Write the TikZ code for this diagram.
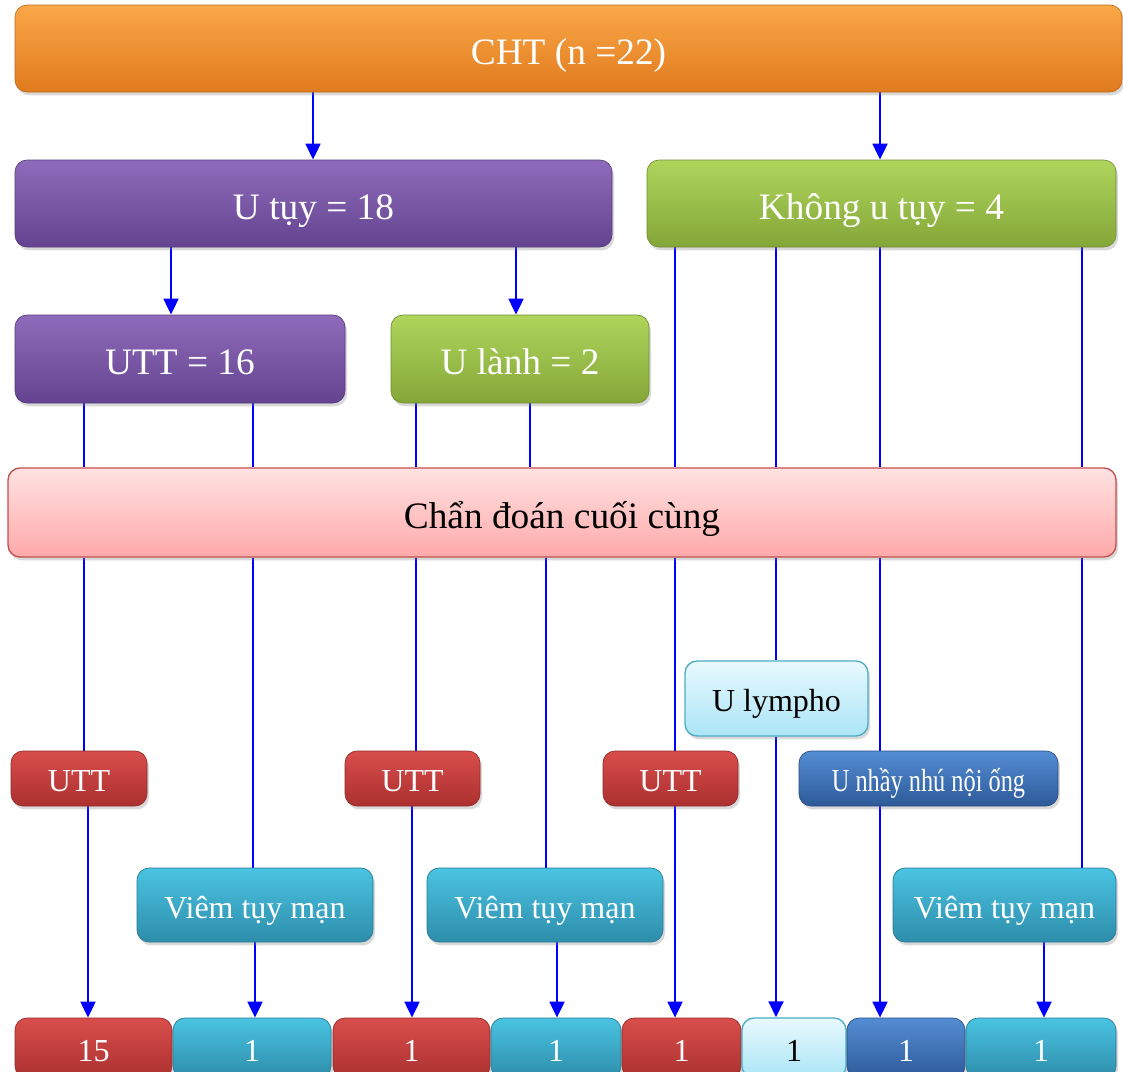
\documentclass[tikz,border=0pt]{standalone}
\usepackage{fontspec}
\setmainfont{Liberation Serif}
\usetikzlibrary{shadows,arrows.meta,backgrounds}
\definecolor{orangeT}{HTML}{FAA848}
\definecolor{orangeB}{HTML}{E07A1E}
\definecolor{purpleT}{HTML}{8F6CBB}
\definecolor{purpleB}{HTML}{634390}
\definecolor{greenT}{HTML}{AFD55C}
\definecolor{greenB}{HTML}{84A638}
\definecolor{pinkT}{HTML}{FFE2E2}
\definecolor{pinkB}{HTML}{FFA9A9}
\definecolor{pinkD}{HTML}{C0504D}
\definecolor{redT}{HTML}{D84E4C}
\definecolor{redB}{HTML}{AB302F}
\definecolor{tealT}{HTML}{49C4E2}
\definecolor{tealB}{HTML}{2E8DAB}
\definecolor{blueT}{HTML}{548DD4}
\definecolor{blueB}{HTML}{2D5A99}
\definecolor{ltT}{HTML}{E8F9FE}
\definecolor{ltB}{HTML}{ABE5F6}
\definecolor{ltD}{HTML}{4BACC6}
\tikzset{
  bx/.style n args={4}{at={({(#1+#3)/2},{(#2+#4)/2})},
    minimum width={(#3-#1)*0.75pt}, minimum height={(#4-#2)*0.75pt}},
  box/.style={rounded corners=9pt, inner sep=0pt, text=white,
    font=\fontsize{28}{32}\selectfont, text height=23.5pt, text depth=0pt,
    drop shadow={shadow xshift=1.5pt, shadow yshift=-2.5pt, opacity=0.3}},
  smallfont/.style={font=\fontsize{24}{28}\selectfont, text height=20pt},
  orangebox/.style={box, top color=orangeT, bottom color=orangeB, draw=orangeB!85!black, line width=0.5pt},
  purplebox/.style={box, top color=purpleT, bottom color=purpleB, draw=purpleB!85!black, line width=0.5pt},
  greenbox/.style={box, top color=greenT, bottom color=greenB, draw=greenB!85!black, line width=0.5pt},
  pinkbox/.style={box, top color=pinkT, bottom color=pinkB, draw=pinkD, line width=1pt, text=black},
  redbox/.style={box, smallfont, top color=redT, bottom color=redB, draw=redB!85!black, line width=0.5pt},
  tealbox/.style={box, smallfont, top color=tealT, bottom color=tealB, draw=tealB!85!black, line width=0.5pt},
  bluebox/.style={box, smallfont, top color=blueT, bottom color=blueB, draw=blueB!85!black, line width=0.5pt},
  ltbox/.style={box, smallfont, top color=ltT, bottom color=ltB, draw=ltD, line width=1pt, text=black},
  conn/.style={draw=blue, line width=2.1pt},
  arr/.style={conn, -{Triangle[length=12pt,width=11pt]}},
}
\begin{document}
\begin{tikzpicture}[x=0.75pt, y=-0.75pt]
\useasboundingbox (0,0) rectangle (1123,1071);
% top levels
\node[orangebox, bx={15}{5}{1122}{92}] (cht) {CHT (n =22)};
\node[purplebox, bx={15}{160}{612}{247}] (utuy) {U tụy = 18};
\node[greenbox, bx={647}{160}{1116}{247}] (kutuy) {Không u tụy = 4};
\node[purplebox, bx={15}{315}{345}{403}] (utt16) {UTT = 16};
\node[greenbox, bx={391}{315}{649}{403}] (ulanh) {U lành = 2};
\node[pinkbox, bx={8}{468}{1116}{557}] (final) {Chẩn đoán cuối cùng};
% diagnoses
\node[ltbox, bx={685}{661}{868}{736}] (lympho) {U lympho};
\node[redbox, bx={11}{751}{147}{806}] (uttA) {UTT};
\node[redbox, bx={345}{751}{480}{806}] (uttB) {UTT};
\node[redbox, bx={603}{751}{738}{806}] (uttC) {UTT};
\node[bluebox, bx={799}{751}{1058}{806}] (unhay) {\scalebox{0.76}[1]{U nhầy nhú nội ống}};
\node[tealbox, bx={137}{868}{373}{942}] (viemA) {Viêm tụy mạn};
\node[tealbox, bx={427}{868}{663}{942}] (viemB) {Viêm tụy mạn};
\node[tealbox, bx={893}{868}{1116}{942}] (viemC) {Viêm tụy mạn};
% bottom row
\node[redbox, bx={15}{1018}{172}{1078}] (b1) {15};
\node[tealbox, bx={173}{1018}{331}{1078}] (b2) {1};
\node[redbox, bx={333}{1018}{490}{1078}] (b3) {1};
\node[tealbox, bx={491}{1018}{621}{1078}] (b4) {1};
\node[redbox, bx={622}{1018}{741}{1078}] (b5) {1};
\node[ltbox, bx={742}{1018}{846}{1078}] (b6) {1};
\node[bluebox, bx={847}{1018}{965}{1078}] (b7) {1};
\node[tealbox, bx={966}{1018}{1116}{1078}] (b8) {1};
% column coordinates
\coordinate (xa) at (313,0);
\coordinate (xb) at (880,0);
\coordinate (xc) at (171,0);
\coordinate (xd) at (516,0);
\coordinate (c1) at (84,0);
\coordinate (c2) at (253,0);
\coordinate (c3) at (416,0);
\coordinate (c4) at (530,0);
\coordinate (c4b) at (546,0);
\coordinate (c5) at (675,0);
\coordinate (c6) at (776,0);
\coordinate (c7) at (880,0);
\coordinate (c8) at (1082,0);
\coordinate (k1) at (88,0);
\coordinate (k2) at (255,0);
\coordinate (k3) at (412,0);
\coordinate (k4) at (557,0);
\coordinate (k5) at (675,0);
\coordinate (k6) at (776,0);
\coordinate (k7) at (880,0);
\coordinate (k8) at (1044,0);
\begin{pgfonlayer}{background}
\draw[arr] (cht.south -| xa) -- (utuy.north -| xa);
\draw[arr] (cht.south -| xb) -- (kutuy.north -| xb);
\draw[arr] (utuy.south -| xc) -- (utt16.north -| xc);
\draw[arr] (utuy.south -| xd) -- (ulanh.north -| xd);
% into final diagnosis
\draw[conn] (utt16.south -| c1) -- (final.north -| c1);
\draw[conn] (utt16.south -| c2) -- (final.north -| c2);
\draw[conn] (ulanh.south -| c3) -- (final.north -| c3);
\draw[conn] (ulanh.south -| c4) -- (final.north -| c4);
\draw[conn] (kutuy.south -| c5) -- (final.north -| c5);
\draw[conn] (kutuy.south -| c6) -- (final.north -| c6);
\draw[conn] (kutuy.south -| c7) -- (final.north -| c7);
\draw[conn] (kutuy.south -| c8) -- (final.north -| c8);
% out of final diagnosis
\draw[conn] (final.south -| c1) -- (uttA.north -| c1);
\draw[conn] (final.south -| c2) -- (viemA.north -| c2);
\draw[conn] (final.south -| c3) -- (uttB.north -| c3);
\draw[conn] (final.south -| c4b) -- (viemB.north -| c4b);
\draw[conn] (final.south -| c5) -- (uttC.north -| c5);
\draw[conn] (final.south -| c6) -- (lympho.north -| c6);
\draw[conn] (final.south -| c7) -- (unhay.north -| c7);
\draw[conn] (final.south -| c8) -- (viemC.north -| c8);
% to counts
\draw[arr] (uttA.south -| k1) -- (b1.north -| k1);
\draw[arr] (viemA.south -| k2) -- (b2.north -| k2);
\draw[arr] (uttB.south -| k3) -- (b3.north -| k3);
\draw[arr] (viemB.south -| k4) -- (b4.north -| k4);
\draw[arr] (uttC.south -| k5) -- (b5.north -| k5);
\draw[arr] (lympho.south -| k6) -- (b6.north -| k6);
\draw[arr] (unhay.south -| k7) -- (b7.north -| k7);
\draw[arr] (viemC.south -| k8) -- (b8.north -| k8);
\end{pgfonlayer}
\end{tikzpicture}
\end{document}
